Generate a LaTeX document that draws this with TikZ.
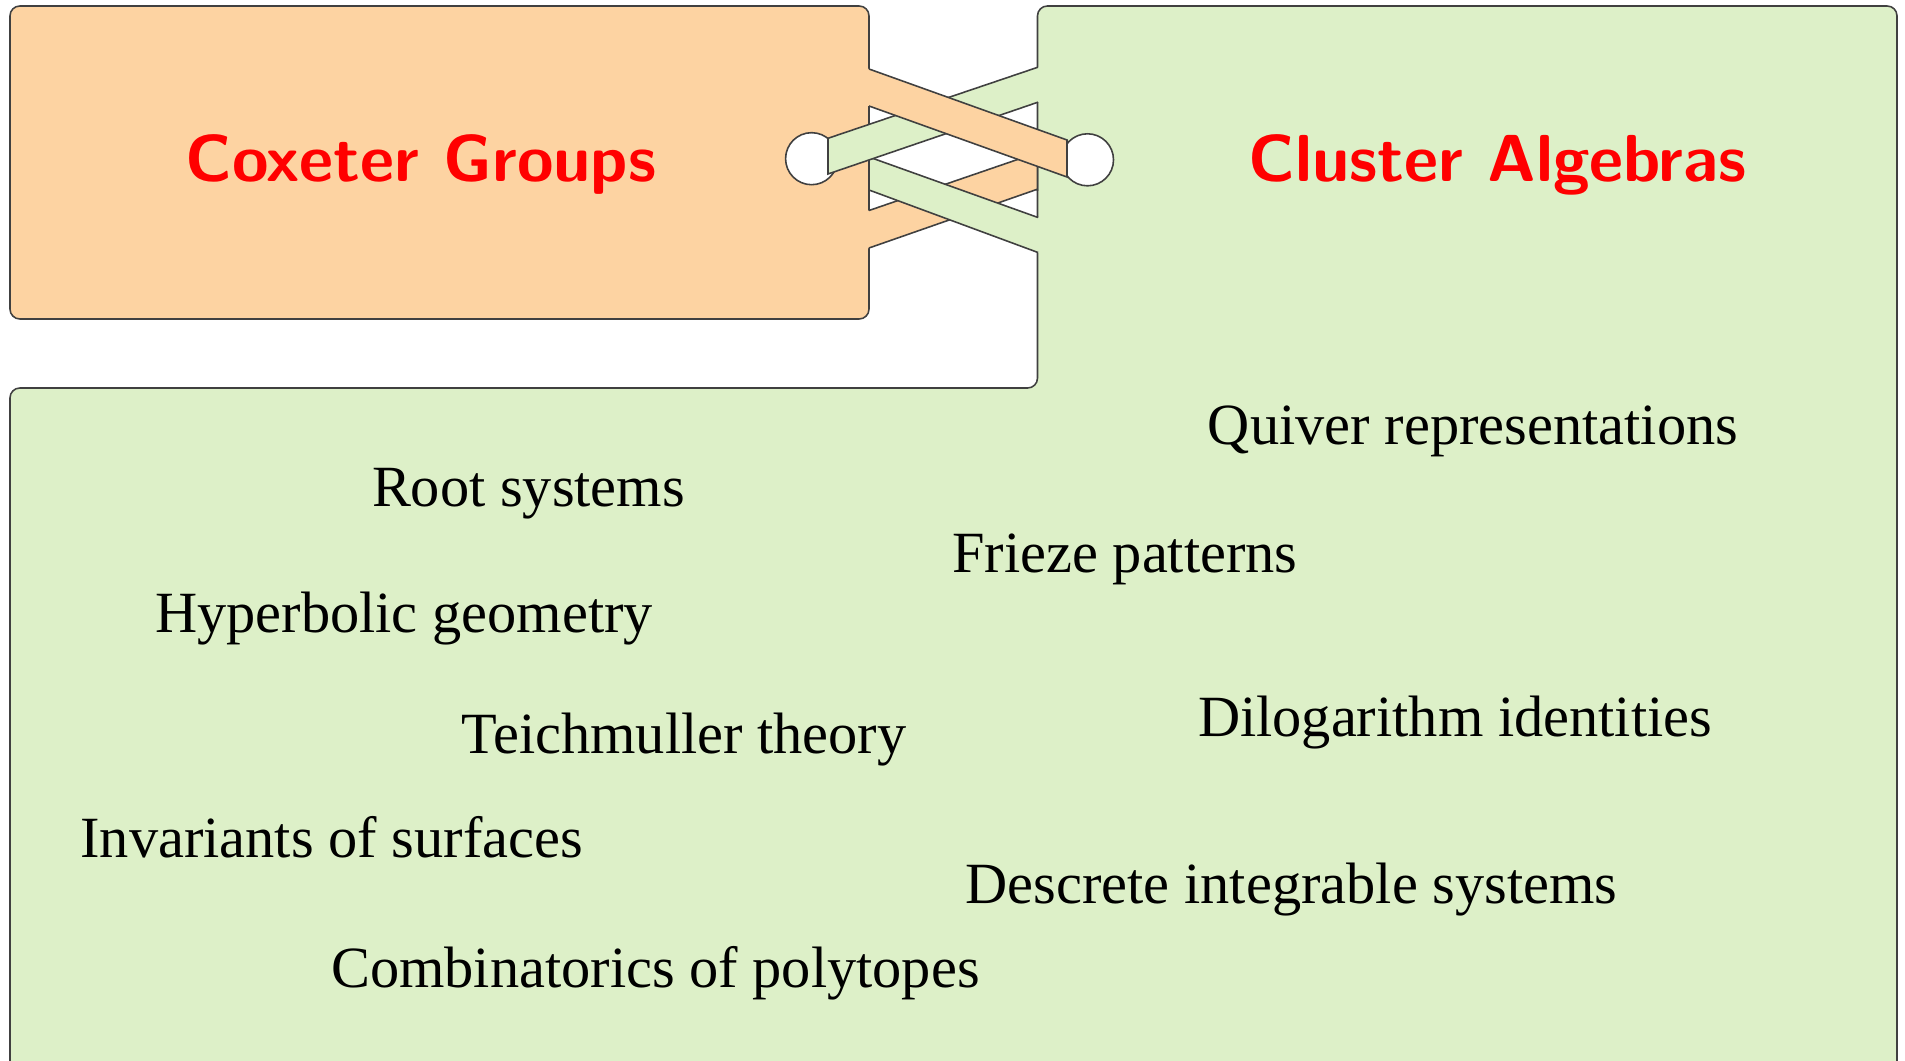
\documentclass[tikz,border=0pt]{standalone}
\usepackage{fontspec}
\newfontfamily\timesf{Liberation Serif}
\definecolor{tagorange}{RGB}{253,211,162}
\definecolor{taggreen}{RGB}{221,240,200}
\begin{document}
\begin{tikzpicture}[x=0.01cm,y=-0.01cm,
  edge/.style={draw=black!75,line width=0.45pt},
  title/.style={anchor=base,text=red,font=\fontsize{18.9}{22}\selectfont\sffamily\bfseries,inner sep=0pt},
  item/.style={anchor=base,font=\fontsize{16.6}{20}\selectfont\timesf,inner sep=0pt},
  hole/.style={circle,draw=black!75,line width=0.45pt,fill=white,minimum size=0.52cm,inner sep=0pt}]
\useasboundingbox (0,0) rectangle (1905,1061);
% green region (right tag + lower panel)
\path[edge,fill=taggreen,rounded corners=2.8pt] (1037.5,6) -- (1897,6) -- (1897,1072) -- (10,1072) -- (10,388) -- (1037.5,388) -- cycle;
% orange tag
\path[edge,fill=tagorange,rounded corners=2.8pt] (10,6) rectangle (869,319);
% holes
\node[hole] (lh) at (811.6,158.7) {};
\node[hole] (rh) at (1087.5,159.8) {};
% lower orange band
\fill[tagorange] (866,211.5) -- (1038,152.5) -- (1038,189) -- (866,249) -- cycle;
\draw[edge] (869,210.5) -- (1038,152.5) (869,248) -- (1038,189) (1037.5,150) -- (1037.5,191);
% lower green band
\fill[taggreen] (869,157) -- (1039.5,218) -- (1039.5,253) -- (869,190) -- cycle;
\draw[edge] (869,157) -- (1038,217.5) (869,190) -- (1038,252.5) (869,155) -- (869,192);
% upper green band
\fill[taggreen] (828,138.3) -- (1039.5,66.7) -- (1039.5,101.7) -- (828,174) -- cycle;
\draw[edge] (1038,67.2) -- (828,138.3) -- (828,174) -- (1038,102.2);
% upper orange band
\fill[tagorange] (866,68) -- (1067,140) -- (1067,177) -- (866,105) -- cycle;
\draw[edge] (869,69) -- (1067,140) -- (1067,177) -- (869,106);
% titles
\node[title] (cox) at (420.8,181.7) {Coxeter Groups};
\node[title] (clu) at (1497.5,181.7) {Cluster Algebras};
% topics
\node[item] (quiver) at (1473,445) {Quiver representations};
\node[item] (root) at (528.5,507) {Root systems};
\node[item] (frieze) at (1125,573) {Frieze patterns};
\node[item] (hyper) at (404,632.5) {Hyperbolic geometry};
\node[item] (dilog) at (1455,737) {Dilogarithm identities};
\node[item] (teich) at (684,754) {Teichmuller theory};
\node[item] (invar) at (331.7,857) {Invariants of surfaces};
\node[item] (descr) at (1291.5,903) {Descrete integrable systems};
\node[item] (comb) at (655.4,987) {Combinatorics of polytopes};
\end{tikzpicture}
\end{document}
